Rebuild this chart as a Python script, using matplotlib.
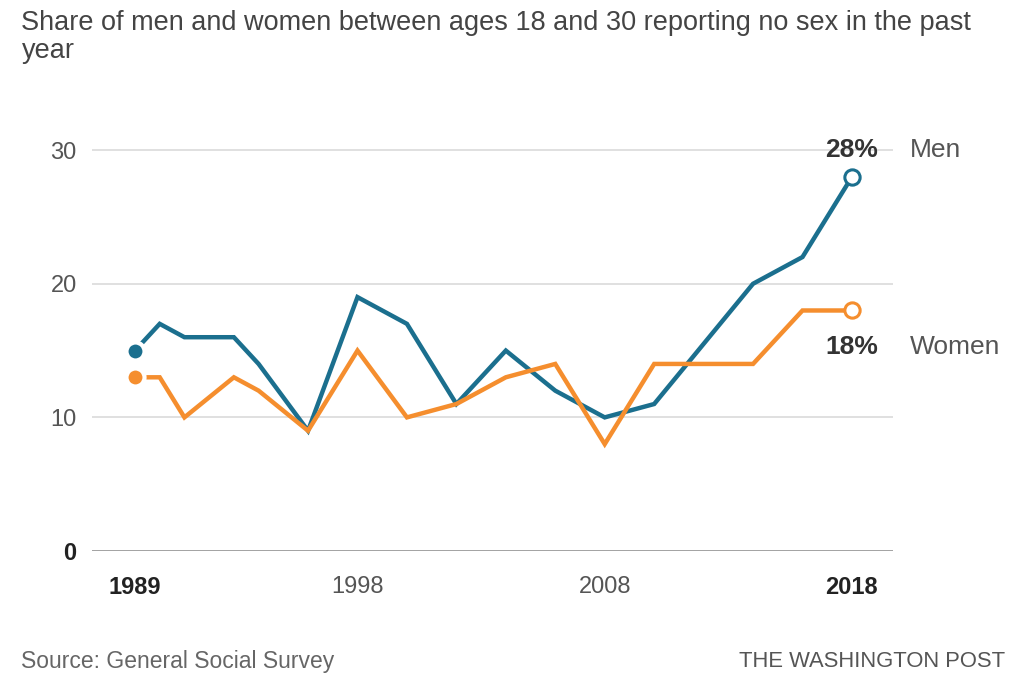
import matplotlib.pyplot as plt

# GSS survey years and shares (%) reporting no sex in the past year, ages 18-30
years = [1989, 1990, 1991, 1993, 1994, 1996, 1998, 2000, 2002, 2004, 2006,
         2008, 2010, 2012, 2014, 2016, 2018]
men = [15, 17, 16, 16, 14, 9, 19, 17, 11, 15, 12, 10, 11, 15.5, 20, 22, 28]
women = [13, 13, 10, 13, 12, 9, 15, 10, 11, 13, 14, 8, 14, 14, 14, 18, 18]

x_ticks = [1989, 1998, 2008, 2018]
y_ticks = [0, 10, 20, 30]

blue = '#1b6f8e'
orange = '#f58e2e'
grey = '#555555'

plt.rcParams['font.family'] = ['Liberation Sans', 'DejaVu Sans']

fig = plt.figure(figsize=(10.23, 6.96), dpi=100)
ax = fig.add_axes([0.0899, 0.2083, 0.783, 0.6336])

for vals, col in [(men, blue), (women, orange)]:
    ax.plot(years, vals, color=col, lw=3.2, solid_joinstyle='miter', zorder=3)
    # first point: filled dot with white halo
    ax.plot(years[0], vals[0], 'o', ms=13, color=col, mec='white', mew=3, zorder=4)
    # last point: hollow ring
    ax.plot(years[-1], vals[-1], 'o', ms=11, mfc='white', mec=col, mew=2.2, zorder=4)

ax.set_xlim(1987.26, 2019.66)
ax.set_ylim(0, 33)

for y in y_ticks[1:]:
    ax.axhline(y, color='#dddddd', lw=1.3, zorder=1)
ax.axhline(0, color='#999999', lw=2, zorder=2)

for s in ax.spines.values():
    s.set_visible(False)
ax.tick_params(length=0)
ax.set_yticks(y_ticks)
ax.set_yticklabels([str(v) for v in y_ticks], fontsize=17, color=grey)
ax.tick_params(axis='y', pad=11)
ax.get_yticklabels()[0].set_fontweight('bold')
ax.get_yticklabels()[0].set_color('#222222')
ax.set_xticks(x_ticks)
ax.set_xticklabels([str(v) for v in x_ticks], fontsize=17, color=grey)
ax.tick_params(axis='x', pad=18)
for i in (0, 3):
    ax.get_xticklabels()[i].set_fontweight('bold')
    ax.get_xticklabels()[i].set_color('#222222')

# end labels
ax.text(years[-1] + 1.05, 30, f'{men[-1]}%', ha='right', va='center', fontsize=19,
        fontweight='bold', color='#333333')
ax.text(years[-1] + 2.35, 30, 'Men', ha='left', va='center', fontsize=19, color=grey)
ax.text(years[-1] + 1.05, 15.3, f'{women[-1]}%', ha='right', va='center', fontsize=19,
        fontweight='bold', color='#333333')
ax.text(years[-1] + 2.35, 15.3, 'Women', ha='left', va='center', fontsize=19, color=grey)

fig.text(0.021, 0.985, 'Share of men and women between ages 18 and 30 reporting no sex in the past\nyear',
         ha='left', va='top', fontsize=19.5, color='#444444', linespacing=1.1)
fig.text(0.021, 0.05, 'Source: General Social Survey', ha='left', va='center',
         fontsize=16.5, color='#666666')
fig.text(0.983, 0.05, 'THE WASHINGTON POST', ha='right', va='center',
         fontsize=15.8, color='#555555')

fig.savefig('out.png', dpi=100)
